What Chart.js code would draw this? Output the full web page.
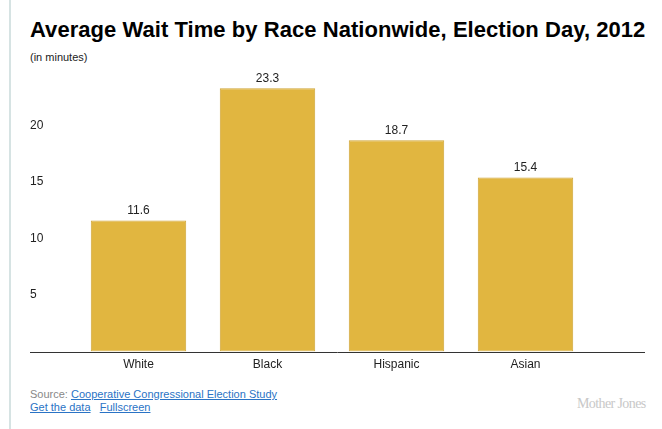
<!DOCTYPE html>
<html>
<head>
<meta charset="utf-8">
<script src="https://cdn.jsdelivr.net/npm/chart.js@4"></script>
<style>
  body { margin: 0; background: #fff; font-family: "Liberation Sans", Arial, Helvetica, sans-serif; }
  #page { position: relative; width: 662px; height: 429px; overflow: hidden; }
  #rule { position: absolute; left: 9px; top: 0; width: 2px; height: 429px; background: #d6e3e3; }
  h1 { position: absolute; left: 30px; top: 18px; margin: 0; font-size: 22px; line-height: 24px; font-weight: bold; color: #000; white-space: nowrap; letter-spacing: 0.05px; }
  #unit { position: absolute; left: 30px; top: 51px; font-size: 11px; color: #222; }
  #wrap { position: absolute; left: 30px; top: 60px; width: 632px; height: 318px; }
  #foot { position: absolute; left: 30px; top: 388px; font-size: 11px; line-height: 13px; color: #888; }
  #foot a { color: #2a73c5; text-decoration: underline; }
  #logo { position: absolute; left: 577px; top: 396px; font-family: "Liberation Serif", "DejaVu Serif", serif; font-size: 14px; color: #c8c8c8; letter-spacing: -0.6px; }
</style>
</head>
<body>
<div id="page">
  <div id="rule"></div>
  <h1>Average Wait Time by Race Nationwide, Election Day, 2012</h1>
  <div id="unit">(in minutes)</div>
  <div id="wrap"><canvas id="bar"></canvas></div>
  <div id="foot">Source: <a>Cooperative Congressional Election Study</a><br><a>Get the data</a>&nbsp;&nbsp;&nbsp;<a>Fullscreen</a></div>
  <div id="logo">Mother Jones</div>
</div>
<script>
// wait time data
var races = ['White', 'Black', 'Hispanic', 'Asian'];
var waitMinutes = [11.6, 23.3, 18.7, 15.4];
var yTicks = [5, 10, 15, 20];

// value labels over the bars + long baseline
var barLabels = {
  id: 'barLabels',
  afterDatasetsDraw: function(chart) {
    var ctx = chart.ctx;
    var meta = chart.getDatasetMeta(0);
    ctx.save();
    ctx.font = '12px "Liberation Sans", Arial, sans-serif';
    ctx.fillStyle = '#222';
    ctx.textAlign = 'center';
    ctx.textBaseline = 'bottom';
    meta.data.forEach(function(bar, i) {
      ctx.fillText(waitMinutes[i].toFixed(1), bar.x, bar.y - 4);
    });
    // baseline
    var y0 = Math.round(chart.scales.y.getPixelForValue(0)) + 0.5;
    ctx.strokeStyle = '#333';
    ctx.lineWidth = 1;
    ctx.beginPath();
    ctx.moveTo(chart.scales.y.left, y0);
    ctx.lineTo(chart.width - 17, y0);
    ctx.stroke();
    ctx.restore();
  }
};

var bar = document.getElementById('bar');
new Chart(bar, {
  type: 'bar',
  data: {
    labels: races,
    datasets: [{
      data: waitMinutes,
      backgroundColor: '#e1b640',
      borderColor: '#cfa536',
      borderWidth: 1,
      borderSkipped: false,
      categoryPercentage: 1,
      barPercentage: 0.74
    }]
  },
  options: {
    responsive: true,
    maintainAspectRatio: false,
    animation: false,
    layout: { padding: { top: 9, right: 72, left: 0, bottom: 0 } },
    plugins: { legend: { display: false }, tooltip: { enabled: false } },
    scales: {
      x: {
        grid: { display: false, drawTicks: false },
        border: { display: false },
        ticks: { color: '#222', font: { size: 12, family: '"Liberation Sans", Arial, sans-serif' }, padding: 6 }
      },
      y: {
        min: 0,
        max: 25,
        afterBuildTicks: function(scale) {
          scale.ticks = yTicks.map(function(v) { return { value: v }; });
        },
        afterFit: function(scale) { scale.width = 44; },
        grid: { display: false, drawTicks: false },
        border: { display: false },
        ticks: { color: '#222', crossAlign: 'far', padding: 0, font: { size: 12, family: '"Liberation Sans", Arial, sans-serif' } }
      }
    }
  },
  plugins: [barLabels]
});
</script>
</body>
</html>
